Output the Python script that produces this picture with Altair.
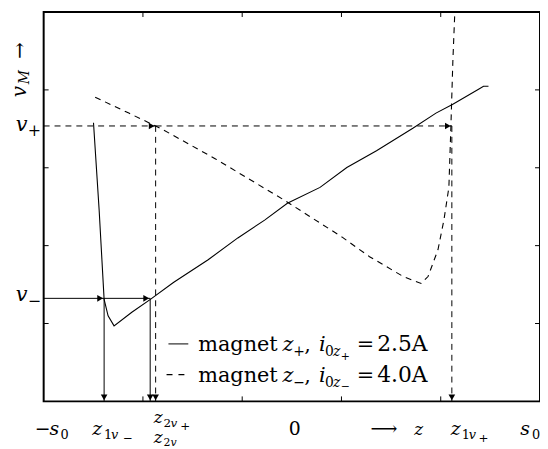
import altair as alt
import pandas as pd

# ---- data (plot units: x 0..5, y 0..5) ----
solid_x = [0.502, 0.559, 0.609, 0.649, 0.709, 0.888, 1.075, 1.307, 1.657, 1.956, 2.226, 2.455,
           2.784, 3.054, 3.353, 3.723, 3.952, 4.122, 4.381, 4.431, 4.481]
solid_y = [3.579, 2.455, 1.310, 1.098, 0.970, 1.145, 1.310, 1.527, 1.819, 2.099, 2.328, 2.545,
           2.748, 3.003, 3.219, 3.511, 3.702, 3.817, 4.008, 4.046, 4.046]
dash_x = [0.519, 0.858, 1.188, 1.727, 2.425, 3.004, 3.283, 3.623, 3.802, 3.872, 3.972, 4.032,
          4.082, 4.102, 4.122, 4.142]
dash_y = [3.906, 3.702, 3.499, 3.117, 2.583, 2.112, 1.858, 1.603, 1.514, 1.603, 1.947, 2.328,
          2.748, 3.511, 4.364, 5.0]

v_minus = 1.323
v_plus = 3.537
z1v_minus = 0.609
z2v = 1.073
z2v_plus = 1.128
z1v_plus = 4.112

ticks = [1, 2, 3, 4]

W, H = 501, 393
FONT = "DejaVu Serif"

xs = alt.Scale(domain=[0, 5], nice=False, zero=False)
ys = alt.Scale(domain=[0, 5], nice=False, zero=False)
X = lambda f: alt.X(f, type="quantitative", scale=xs, axis=None)
Y = lambda f: alt.Y(f, type="quantitative", scale=ys, axis=None)

solid_df = pd.DataFrame({"x": solid_x, "y": solid_y, "i": range(len(solid_x))})
dash_df = pd.DataFrame({"x": dash_x, "y": dash_y, "i": range(len(dash_x))})

solid_line = alt.Chart(solid_df).mark_line(color="black", strokeWidth=1.1).encode(
    x=X("x"), y=Y("y"), order="i:Q")
dash_line = alt.Chart(dash_df).mark_line(color="black", strokeWidth=1.1, strokeDash=[6, 5]).encode(
    x=X("x"), y=Y("y"), order="i:Q")

solid_guides = pd.DataFrame({
    "x": [0, z1v_minus, z1v_minus, z2v],
    "x2": [z1v_minus, z2v, z1v_minus, z2v],
    "y": [v_minus, v_minus, v_minus, v_minus],
    "y2": [v_minus, v_minus, 0, 0],
})
dash_guides = pd.DataFrame({
    "x": [0, z2v_plus, z2v_plus, z1v_plus],
    "x2": [z2v_plus, z1v_plus, z2v_plus, z1v_plus],
    "y": [v_plus, v_plus, v_plus, v_plus],
    "y2": [v_plus, v_plus, 0, 0],
})
g1 = alt.Chart(solid_guides).mark_rule(color="black", strokeWidth=1).encode(
    x=X("x"), x2="x2", y=Y("y"), y2="y2")
g2 = alt.Chart(dash_guides).mark_rule(color="black", strokeWidth=1, strokeDash=[6, 5]).encode(
    x=X("x"), x2="x2", y=Y("y"), y2="y2")

right_heads = pd.DataFrame({"x": [z1v_minus, z2v, z2v_plus, z1v_plus],
                            "y": [v_minus, v_minus, v_plus, v_plus]})
down_heads = pd.DataFrame({"x": [z1v_minus, z2v, z2v_plus, z1v_plus], "y": [0, 0, 0, 0]})
h1 = alt.Chart(right_heads).mark_point(shape="triangle-right", filled=True, color="black",
                                       opacity=1, size=45, xOffset=-4).encode(x=X("x"), y=Y("y"))
h2 = alt.Chart(down_heads).mark_point(shape="triangle-down", filled=True, color="black",
                                      opacity=1, size=45, yOffset=-4).encode(x=X("x"), y=Y("y"))

tick_df = pd.DataFrame({"t": ticks})
tb = alt.Chart(tick_df).mark_rule(color="black").encode(x=X("t"), y=alt.value(H), y2=alt.value(H - 5))
tt = alt.Chart(tick_df).mark_rule(color="black").encode(x=X("t"), y=alt.value(0), y2=alt.value(5))
tl = alt.Chart(tick_df).mark_rule(color="black").encode(y=Y("t"), x=alt.value(0), x2=alt.value(5))
tr = alt.Chart(tick_df).mark_rule(color="black").encode(y=Y("t"), x=alt.value(W), x2=alt.value(W - 5))

# ---- annotation text pieces: (x, y, text, size, italic, angle) ----
labels = [
    # y-axis labels
    (-0.28, 3.473, "v", 21, True, 0), (-0.16, 3.41, "+", 16, False, 0),
    (-0.28, 1.285, "v", 21, True, 0), (-0.16, 1.221, "−", 16, False, 0),
    (-0.18, 3.906, "v", 20, True, 270), (-0.145, 4.071, "M", 14, True, 270),
    (-0.18, 4.40, "→", 20, False, 270),
    # x-axis labels
    (-0.09, -0.433, "−", 19, False, 0), (0.06, -0.433, "s", 19, True, 0), (0.17, -0.483, "0", 13, False, 0),
    (0.489, -0.433, "z", 19, True, 0), (0.609, -0.483, "1", 13, False, 0), (0.679, -0.483, "v", 13, True, 0),
    (0.798, -0.522, "−", 12, False, 0),
    (1.108, -0.28, "z", 17, True, 0), (1.208, -0.331, "2", 12, False, 0), (1.277, -0.331, "v", 12, True, 0),
    (1.377, -0.369, "+", 12, False, 0),
    (1.108, -0.534, "z", 17, True, 0), (1.208, -0.573, "2", 11, False, 0), (1.277, -0.573, "v", 11, True, 0),
    (2.47, -0.433, "0", 19, False, 0),
    (3.293, -0.433, "⟶", 19, False, 0), (3.733, -0.433, "z", 17, True, 0),
    (4.102, -0.433, "z", 19, True, 0), (4.212, -0.483, "1", 13, False, 0), (4.281, -0.483, "v", 13, True, 0),
    (4.381, -0.522, "+", 12, False, 0),
    (4.80, -0.433, "s", 19, True, 0), (4.92, -0.483, "0", 13, False, 0),
    # legend
    (1.557, 0.649, "magnet", 21, False, 0), (2.405, 0.649, "z", 21, True, 0), (2.515, 0.585, "+", 14, False, 0),
    (2.625, 0.649, ",", 21, False, 0), (2.774, 0.649, "i", 21, True, 0), (2.834, 0.585, "0", 14, False, 0),
    (2.914, 0.585, "z", 14, True, 0), (2.994, 0.534, "+", 11, False, 0), (3.154, 0.649, "=", 21, False, 0),
    (3.36, 0.649, "2.5A", 22, False, 0),
    (1.557, 0.254, "magnet", 21, False, 0), (2.405, 0.254, "z", 21, True, 0), (2.515, 0.191, "−", 14, False, 0),
    (2.625, 0.254, ",", 21, False, 0), (2.774, 0.254, "i", 21, True, 0), (2.834, 0.191, "0", 14, False, 0),
    (2.914, 0.191, "z", 14, True, 0), (2.994, 0.140, "−", 11, False, 0), (3.154, 0.254, "=", 21, False, 0),
    (3.36, 0.254, "4.0A", 22, False, 0),
]
lab_df = pd.DataFrame(labels, columns=["x", "y", "text", "size", "italic", "angle"])


def text_layer(df, style):
    return alt.Chart(df).mark_text(align="left", baseline="alphabetic", font=FONT, fontStyle=style,
                                   color="black").encode(
        x=X("x"), y=Y("y"), text="text:N",
        size=alt.Size("size:Q", scale=None, legend=None),
        angle=alt.Angle("angle:Q", scale=None))


t_it = text_layer(lab_df[lab_df["italic"]], "italic")
t_up = text_layer(lab_df[~lab_df["italic"]], "normal")

leg_df = pd.DataFrame({"x": [1.257, 1.238], "x2": [1.457, 1.477], "y": [0.738, 0.344], "d": [0, 1]})
leg1 = alt.Chart(leg_df[leg_df["d"] == 0]).mark_rule(color="black", strokeWidth=1).encode(
    x=X("x"), x2="x2", y=Y("y"))
leg2 = alt.Chart(leg_df[leg_df["d"] == 1]).mark_rule(color="black", strokeWidth=1.3, strokeDash=[6, 6]).encode(
    x=X("x"), x2="x2", y=Y("y"))

chart = alt.layer(g1, g2, solid_line, dash_line, h1, h2, tb, tt, tl, tr, t_it, t_up, leg1, leg2).properties(
    width=W, height=H,
    autosize=alt.AutoSizeParams(type="none"),
    padding={"left": 36, "top": 2, "right": 0, "bottom": 46},
).configure_view(stroke="black", strokeWidth=2)

chart.save("out.html", embed_options={"renderer": "svg", "actions": False})
